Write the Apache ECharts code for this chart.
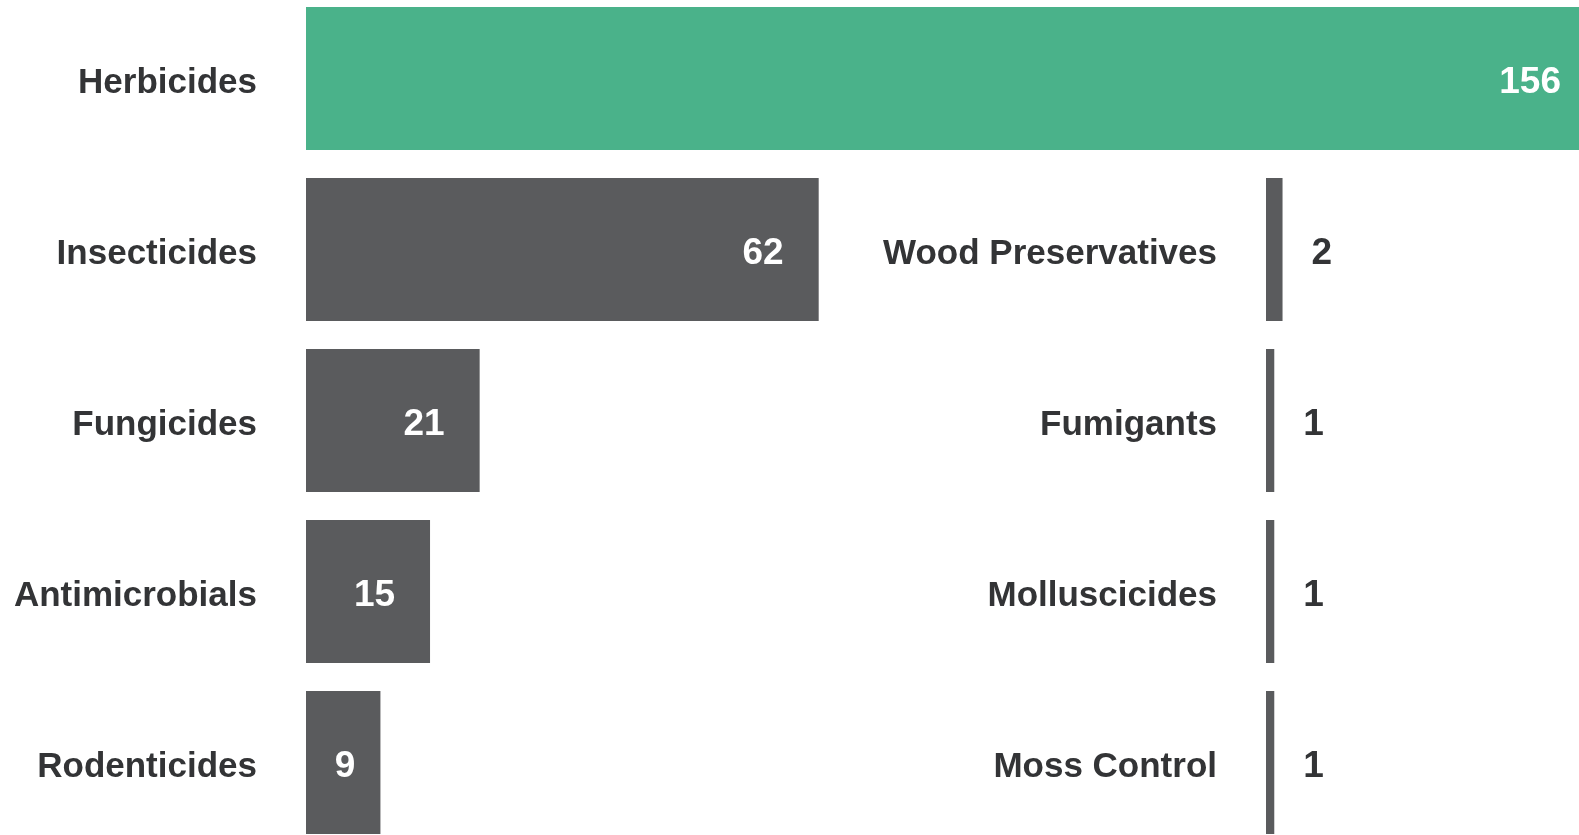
<!DOCTYPE html>
<html>
<head>
<meta charset="utf-8">
<style>
  html, body { margin: 0; padding: 0; background: #fff; }
  #main { width: 1579px; height: 835px; }
</style>
<script src="https://cdn.jsdelivr.net/npm/echarts@6/dist/echarts.min.js"></script>
</head>
<body>
<div id="main"></div>
<script>
var leftCategories = ['Herbicides', 'Insecticides', 'Fungicides', 'Antimicrobials', 'Rodenticides'];
var leftValues = [156, 62, 21, 15, 9];
var rightCategories = ['Wood Preservatives', 'Fumigants', 'Molluscicides', 'Moss Control'];
var rightValues = [2, 1, 1, 1];

var green = '#4ab28a';
var grey = '#5a5b5d';
var textColor = '#333436';
var font = '"Liberation Sans Narrow", "Liberation Sans", sans-serif';

var myChart = echarts.init(document.getElementById('main'));

var catLabel = {
    margin: 49,
    formatter: '{a|{value}}',
    rich: {
        a: {
            color: textColor,
            fontFamily: font,
            fontWeight: 'bold',
            fontSize: 35,
            padding: [10, 0, 0, 0]
        }
    }
};

var option = {
    animation: false,
    grid: [
        {left: 306, top: -7, width: 1290, height: 855, outerBoundsMode: 'none', containLabel: false},
        {left: 1266, top: 164, width: 82.7, height: 684, outerBoundsMode: 'none', containLabel: false}
    ],
    xAxis: [
        {gridIndex: 0, type: 'value', min: 0, max: 156, show: false},
        {gridIndex: 1, type: 'value', min: 0, max: 10, show: false}
    ],
    yAxis: [
        {
            gridIndex: 0, type: 'category', inverse: true, data: leftCategories,
            axisLine: {show: false}, axisTick: {show: false}, axisLabel: catLabel
        },
        {
            gridIndex: 1, type: 'category', inverse: true, data: rightCategories,
            axisLine: {show: false}, axisTick: {show: false}, axisLabel: catLabel
        }
    ],
    series: [
        {
            type: 'bar',
            xAxisIndex: 0, yAxisIndex: 0,
            barWidth: 143,
            data: leftValues.map(function (v, i) {
                // the narrowest bar keeps its number a bit closer to the end
                return i === leftValues.length - 1 ? {value: v, label: {distance: 25}} : v;
            }),
            itemStyle: {
                color: function (p) { return p.dataIndex === 0 ? green : grey; }
            },
            label: {
                show: true,
                position: 'insideRight',
                distance: 35,
                offset: [0, 4],
                color: '#fff',
                fontFamily: font,
                fontWeight: 'bold',
                fontSize: 37
            }
        },
        {
            type: 'bar',
            xAxisIndex: 1, yAxisIndex: 1,
            barWidth: 143,
            data: rightValues,
            itemStyle: {color: grey},
            label: {
                show: true,
                position: 'right',
                distance: 29,
                offset: [0, 4],
                color: textColor,
                fontFamily: font,
                fontWeight: 'bold',
                fontSize: 37
            }
        }
    ]
};
myChart.setOption(option);
</script>
</body>
</html>
